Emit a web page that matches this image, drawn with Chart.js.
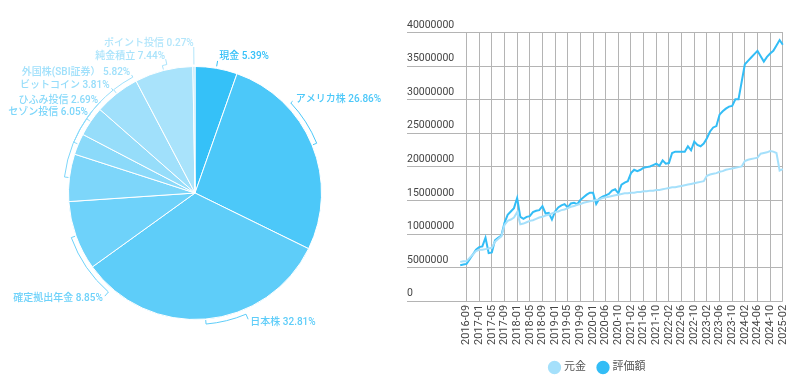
<!DOCTYPE html>
<html>
<head>
<meta charset="utf-8">
<script src="https://cdn.jsdelivr.net/npm/chart.js@4.4.0/dist/chart.umd.min.js"></script>
<style>
  html, body { margin: 0; padding: 0; background: #fff; }
  #wrap { position: relative; width: 800px; height: 383px; }
  .box { position: absolute; top: 0; width: 400px; height: 383px; }
  #left { left: 0; }
  #right { left: 400px; }
</style>
</head>
<body>
<div id="wrap">
  <div class="box" id="left"><canvas id="pie"></canvas></div>
  <div class="box" id="right"><canvas id="line"></canvas></div>
</div>
<script>
// pie: asset breakdown
const categories = ['現金', 'アメリカ株', '日本株', '確定拠出年金', 'セゾン投信', 'ひふみ投信', 'ビットコイン', '外国株(SBI証券）', '純金積立', 'ポイント投信'];
const shares = [5.39, 26.86, 32.81, 8.85, 6.05, 2.69, 3.81, 5.82, 7.44, 0.27];
const sliceColors = ['#35c1f8', '#4cc8f9', '#5ecdf9', '#6ed2fa', '#7dd6fa', '#8bdafa', '#96ddfa', '#a0e0fb', '#a9e3fb', '#b3e6fb'];

// line: monthly totals
const months = [
  '2016-07','2016-08','2016-09','2016-10','2016-11','2016-12',
  '2017-01','2017-02','2017-03','2017-04','2017-05','2017-06','2017-07','2017-08','2017-09','2017-10','2017-11','2017-12',
  '2018-01','2018-02','2018-03','2018-04','2018-05','2018-06','2018-07','2018-08','2018-09','2018-10','2018-11','2018-12',
  '2019-01','2019-02','2019-03','2019-04','2019-05','2019-06','2019-07','2019-08','2019-09','2019-10','2019-11','2019-12',
  '2020-01','2020-03','2020-04','2020-05','2020-06','2020-07','2020-08','2020-09','2020-10','2020-11','2020-12',
  '2021-01','2021-02','2021-03','2021-04','2021-05','2021-06','2021-07','2021-08','2021-09','2021-10','2021-11','2021-12',
  '2022-01','2022-02','2022-03','2022-04','2022-05','2022-06','2022-07','2022-08','2022-09','2022-10','2022-11','2022-12',
  '2023-01','2023-02','2023-03','2023-04','2023-05','2023-06','2023-07','2023-08','2023-09','2023-10','2023-11','2023-12',
  '2024-01','2024-02','2024-03','2024-04','2024-05','2024-06','2024-07','2024-08','2024-09','2024-10','2024-11','2024-12',
  '2025-01','2025-02'
];
const principal = [
  5800000, 5900000, 5900000, 6400000, 6900000, 7400000,
  7600000, 7600000, 7700000, 7800000, 7900000, 8800000, 9200000, 9600000, 11300000, 11900000, 12100000, 12400000,
  13200000, 11400000, 11500000, 11700000, 11900000, 12000000, 12200000, 12400000, 12500000, 12700000, 12800000, 13000000,
  13200000, 13300000, 13500000, 13600000, 13800000, 14000000, 14100000, 14300000, 14400000, 14600000, 14700000, 14800000,
  14900000, 15000000, 15100000, 15300000, 15400000, 15500000, 15600000, 15700000, 15800000, 15900000, 16000000,
  16000000, 16100000, 16100000, 16200000, 16200000, 16300000, 16300000, 16400000, 16400000, 16500000, 16500000, 16600000,
  16700000, 16800000, 16900000, 16900000, 17000000, 17100000, 17200000, 17300000, 17400000, 17500000, 17600000, 17700000,
  17800000, 18600000, 18800000, 18900000, 19000000, 19200000, 19300000, 19500000, 19600000, 19700000, 19800000, 19900000,
  20000000, 20800000, 21000000, 21100000, 21200000, 21300000, 21900000, 22000000, 22100000, 22300000, 22200000, 22000000,
  19400000, 19600000
];
const valuation = [
  5300000, 5400000, 5500000, 6200000, 6900000, 7600000,
  8000000, 8100000, 9400000, 7100000, 7200000, 9000000, 9400000, 9700000, 11600000, 12800000, 13300000, 13800000,
  15300000, 12500000, 12200000, 12500000, 12600000, 13200000, 13400000, 13500000, 14100000, 13000000, 13100000, 12100000,
  13300000, 13900000, 14200000, 14400000, 13900000, 14500000, 14600000, 14400000, 15000000, 15400000, 15800000, 16100000,
  16100000, 14400000, 15200000, 15500000, 15700000, 15900000, 16400000, 16600000, 16000000, 17300000, 17600000,
  17800000, 19000000, 19500000, 19300000, 19500000, 19800000, 19900000, 20000000, 20200000, 20400000, 20100000, 20900000,
  20400000, 20500000, 22000000, 22200000, 22200000, 22200000, 22200000, 23000000, 22400000, 23700000, 23200000, 23000000,
  23400000, 24200000, 25200000, 25800000, 26000000, 27700000, 28200000, 28600000, 28900000, 29000000, 30000000, 30000000,
  32600000, 35200000, 35700000, 36200000, 36700000, 37200000, 36400000, 35600000, 36300000, 36800000, 37200000, 38000000,
  38800000, 38100000
];
const yMax = 40000000;
const yStep = 5000000;

const FONT = 'Roboto, "Noto Sans CJK JP", sans-serif';
Chart.defaults.font.family = FONT;

// where each pie label sits: [shift from slice middle in degrees, distance from centre]
const labelLayout = [[0, 138], [-21, 137], [-18, 140], [-29, 140], [30, 134], [21, 134], [17, 137], [10, 137], [2, 140], [0, 150]];

const pieLabels = {
  id: 'pieLabels',
  afterDatasetsDraw(chart) {
    const ctx = chart.ctx;
    const meta = chart.getDatasetMeta(0);
    ctx.save();
    ctx.font = '500 10px ' + FONT;
    ctx.textBaseline = 'middle';
    ctx.lineWidth = 1;
    meta.data.forEach((arc, i) => {
      const p = arc.getProps(['x', 'y', 'startAngle', 'endAngle', 'outerRadius'], true);
      const mid = (p.startAngle + p.endAngle) / 2;
      const shift = labelLayout[i][0];
      const rho = labelLayout[i][1];
      const phi = mid + shift * Math.PI / 180;
      const r = p.outerRadius;
      ctx.strokeStyle = sliceColors[i];
      ctx.fillStyle = sliceColors[i];
      ctx.beginPath();
      if (shift !== 0) {
        ctx.moveTo(p.x + (r + 1) * Math.cos(mid), p.y + (r + 1) * Math.sin(mid));
        ctx.arc(p.x, p.y, r + 5, mid, phi, shift < 0);
        ctx.lineTo(p.x + (rho - 3) * Math.cos(phi), p.y + (rho - 3) * Math.sin(phi));
      } else {
        ctx.moveTo(p.x + (r + 2) * Math.cos(mid), p.y + (r + 2) * Math.sin(mid));
        ctx.lineTo(p.x + (rho - 4) * Math.cos(phi), p.y + (rho - 4) * Math.sin(phi));
      }
      ctx.stroke();
      const lx = p.x + rho * Math.cos(phi);
      const ly = p.y + rho * Math.sin(phi);
      const onLeft = Math.cos(mid) < 0;
      ctx.textAlign = onLeft ? 'right' : 'left';
      ctx.fillText(categories[i] + ' ' + shares[i].toFixed(2) + '%', lx + (onLeft ? 0 : 1), ly);
    });
    ctx.restore();
  }
};

new Chart(document.getElementById('pie'), {
  type: 'pie',
  data: {
    labels: categories,
    datasets: [{
      data: shares,
      backgroundColor: sliceColors,
      borderColor: '#ffffff',
      borderWidth: 1
    }]
  },
  options: {
    responsive: true,
    maintainAspectRatio: false,
    animation: false,
    layout: { padding: { left: 68, top: 66, right: 78, bottom: 63 } },
    plugins: { legend: { display: false }, tooltip: { enabled: false } }
  },
  plugins: [pieLabels]
});

const GRID = '#b4b4b4';

// horizontal value lines, running under the tick labels too
const yGrid = {
  id: 'yGrid',
  beforeDatasetsDraw(chart) {
    const ys = chart.scales.y;
    const area = chart.chartArea;
    const ctx = chart.ctx;
    const x0 = Number.isFinite(ys.left) ? ys.left : area.left - 53;
    const x1 = area.right;
    ctx.save();
    ctx.strokeStyle = GRID;
    ctx.lineWidth = 1;
    ys.ticks.forEach(t => {
      let py = ys.getPixelForValue(t.value);
      if (!Number.isFinite(py)) py = area.bottom - (t.value / yMax) * (area.bottom - area.top);
      py = Math.round(py) + 0.5;
      ctx.beginPath();
      ctx.moveTo(x0, py);
      ctx.lineTo(x1, py);
      ctx.stroke();
    });
    ctx.restore();
  }
};

new Chart(document.getElementById('line'), {
  type: 'line',
  data: {
    labels: months,
    datasets: [{
      label: '元金',
      data: principal,
      borderColor: '#a5e0fb',
      backgroundColor: '#a5e0fb',
      borderWidth: 2,
      pointRadius: 0,
      tension: 0
    }, {
      label: '評価額',
      data: valuation,
      borderColor: '#33bdf6',
      backgroundColor: '#33bdf6',
      borderWidth: 2,
      pointRadius: 0,
      tension: 0
    }]
  },
  options: {
    responsive: true,
    maintainAspectRatio: false,
    animation: false,
    layout: { padding: { top: 32, left: 7, right: 11, bottom: 0 } },
    plugins: {
      legend: {
        position: 'bottom',
        labels: {
          usePointStyle: true,
          pointStyle: 'circle',
          boxWidth: 8,
          boxHeight: 8,
          padding: 13,
          color: '#555',
          font: { size: 11 }
        }
      },
      tooltip: { enabled: false }
    },
    scales: {
      x: {
        grid: {
          drawTicks: false,
          color: GRID,
          lineWidth: c => (c.index % 4 === 2 ? 1 : 0)
        },
        border: { display: false },
        ticks: {
          autoSkip: false,
          maxRotation: 90,
          minRotation: 90,
          padding: 4,
          color: '#444',
          font: { size: 11 },
          callback: (v, i) => (i % 4 === 2 ? months[i] : '')
        }
      },
      y: {
        min: 0,
        max: yMax,
        grid: { display: false, drawTicks: false },
        border: { display: false },
        ticks: {
          stepSize: yStep,
          crossAlign: 'far',
          labelOffset: -7,
          padding: 3,
          color: '#444',
          font: { size: 10.5 },
          callback: v => String(v)
        }
      }
    }
  },
  plugins: [yGrid]
});
</script>
</body>
</html>
